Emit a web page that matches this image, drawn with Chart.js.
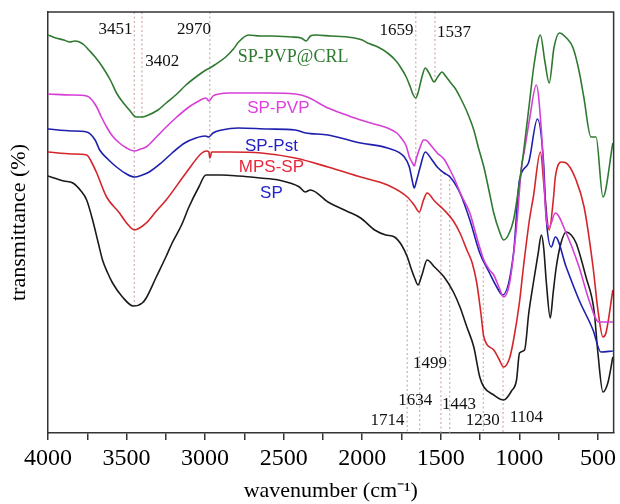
<!DOCTYPE html>
<html>
<head>
<meta charset="utf-8">
<script src="https://cdn.jsdelivr.net/npm/chart.js@4/dist/chart.umd.min.js"></script>
<style>
html,body{margin:0;padding:0;background:#fff;}
#wrap{width:620px;height:504px;}
</style>
</head>
<body>
<div id="wrap"><canvas id="c" width="620" height="504"></canvas></div>
<script>
// x tick positions (wavenumber, cm^-1); labelled every 500
const tickPositions = [4000,3750,3500,3250,3000,2750,2500,2250,2000,1750,1500,1250,1000,750,500];

// spectra: [wavenumber, transmittance (arbitrary units)]
const spPvpCrl = [[4000,398],[3950,395],[3900,393],[3860,391],[3830,392],[3800,391],[3770,388],[3740,383],[3700,376],[3653,366],[3600,352],[3564,340],[3520,330],[3482,323],[3438,316],[3400,316],[3375,317],[3300,323],[3248,330],[3180,339],[3122,348],[3050,357],[2995,363],[2970,365],[2940,368],[2869,376],[2820,384],[2787,391],[2724,398],[2650,397],[2578,397],[2450,396],[2389,395],[2357,392],[2330,397],[2300,398],[2200,397],[2092,396],[2000,393],[1966,390],[1900,386],[1839,380],[1790,373],[1757,366],[1720,356],[1694,346],[1675,338],[1659,335],[1645,340],[1620,356],[1599,365],[1575,360],[1542,351],[1520,356],[1492,361],[1470,357],[1441,351],[1410,345],[1378,336],[1330,320],[1290,303],[1260,285],[1226,266],[1190,240],[1163,220],[1130,203],[1100,193],[1070,198],[1037,213],[1000,250],[974,280],[936,330],[905,370],[866,398],[838,372],[810,350],[780,385],[746,400],[700,395],[658,385],[620,362],[590,336],[544,296],[512,296],[468,236],[405,290]];

const spPvp = [[4000,339],[3850,338],[3754,337],[3720,333],[3690,326],[3660,316],[3627,306],[3590,297],[3545,290],[3500,285],[3450,282],[3410,284],[3375,286],[3310,296],[3248,306],[3180,316],[3103,326],[3040,332],[2995,335],[2975,332],[2950,337],[2913,339],[2850,340],[2787,340],[2600,340],[2427,339],[2350,336],[2218,325],[2100,318],[2010,313],[1900,308],[1839,305],[1780,300],[1757,296],[1720,287],[1700,276],[1680,270],[1669,267],[1655,275],[1631,286],[1610,293],[1599,293],[1560,287],[1523,280],[1480,274],[1441,263],[1416,255],[1370,238],[1315,220],[1270,195],[1226,173],[1190,163],[1163,158],[1130,146],[1100,136],[1062,150],[1018,206],[986,266],[967,283],[936,313],[892,348],[860,303],[828,213],[810,206],[771,220],[702,200],[620,166],[557,133],[494,111],[405,111]];

const spPst = [[4000,304],[3850,302],[3754,301],[3700,293],[3671,283],[3620,274],[3564,266],[3500,259],[3450,256],[3400,258],[3356,261],[3280,270],[3210,280],[3130,290],[3059,295],[3000,297],[2976,296],[2950,300],[2894,303],[2787,305],[2600,304],[2427,303],[2360,300],[2218,298],[2010,290],[1839,285],[1732,276],[1700,266],[1685,255],[1669,245],[1655,252],[1631,266],[1599,281],[1560,274],[1523,266],[1479,260],[1441,256],[1378,240],[1315,213],[1252,180],[1190,160],[1144,146],[1106,138],[1037,180],[999,253],[942,270],[885,314],[847,273],[828,213],[797,186],[771,196],[702,166],[620,133],[531,103],[481,81],[405,82]];

const mpsSp = [[4000,281],[3850,279],[3754,278],[3720,270],[3690,260],[3627,236],[3545,220],[3500,210],[3450,203],[3375,210],[3310,222],[3248,233],[3122,260],[3021,280],[2990,282],[2976,281],[2970,275],[2958,281],[2913,281],[2850,281],[2642,280],[2427,275],[2218,266],[2010,256],[1839,248],[1713,236],[1670,228],[1637,221],[1610,233],[1587,240],[1540,232],[1479,223],[1420,212],[1378,200],[1334,183],[1300,170],[1271,150],[1245,120],[1226,96],[1163,83],[1130,74],[1100,66],[1062,75],[1037,93],[1000,130],[974,166],[936,213],[911,236],[866,281],[841,243],[810,203],[784,233],[771,256],[734,271],[702,270],[639,253],[588,226],[531,166],[500,123],[468,96],[449,100],[405,143]];

const sp = [[4000,257],[3900,252],[3842,250],[3790,242],[3754,233],[3716,213],[3680,190],[3653,173],[3620,160],[3589,150],[3526,136],[3457,127],[3400,130],[3375,135],[3311,156],[3250,176],[3210,190],[3150,208],[3103,226],[3040,246],[2995,258],[2950,258],[2894,258],[2787,257],[2650,255],[2534,253],[2400,246],[2364,241],[2330,243],[2218,231],[2100,222],[2010,215],[1921,203],[1850,198],[1795,196],[1750,188],[1713,176],[1690,165],[1669,156],[1645,148],[1620,158],[1587,173],[1540,166],[1479,156],[1420,141],[1378,126],[1334,106],[1290,86],[1252,56],[1226,46],[1163,38],[1100,33],[1050,42],[1018,53],[999,80],[967,83],[940,120],[911,150],[880,180],[860,198],[845,185],[828,150],[803,115],[785,140],[765,166],[735,190],[702,201],[670,198],[639,190],[576,156],[525,123],[500,80],[468,41],[437,50],[405,76]];

// marker lines: [wavenumber, from, to]
const markerLines = [[3451,421,128],[3402,421,316],[2970,421,270],[1659,421,267],[1537,421,350],[1714,233,0],[1634,221,0],[1499,263,0],[1443,258,0],[1230,166,0],[1104,138,0]];

// peak labels: [text, wavenumber, level]
const peakLabels = [["3451",3570,403],["3402",3273,371],["2970",3071,403],["1659",1782,402],["1537",1416,400],["1714",1839,12],["1634",1662,32],["1499",1568,69],["1443",1384,28],["1230",1233,12],["1104",955,15]];

// series names: [text, wavenumber, level, colour]
const seriesLabels = [["SP-PVP@CRL",2440,376,"#2e7a30","serif"],["SP-PVP",2534,325,"#e03ee0","sans"],["SP-Pst",2578,287,"#2222c0","sans"],["MPS-SP",2578,266,"#e8283c","sans"],["SP",2578,240,"#2222d0","sans"]];

const toPts = arr => arr.map(p => ({x:p[0], y:p[1]}));

const curveDefs = [
  {label:"SP-PVP@CRL", data:spPvpCrl, color:"#2f7a30"},
  {label:"SP-PVP", data:spPvp, color:"#d63fd6"},
  {label:"SP-Pst", data:spPst, color:"#1f1fae"},
  {label:"MPS-SP", data:mpsSp, color:"#d4252b"},
  {label:"SP", data:sp, color:"#1a1a1a"}
];

const datasets = curveDefs.map(c => ({
  label:c.label, data:toPts(c.data), borderColor:c.color, borderWidth:1.6,
  pointRadius:0, fill:false, cubicInterpolationMode:'monotone', tension:0.4
}));
markerLines.forEach(m => datasets.push({
  label:'m'+m[0], data:[{x:m[0],y:m[1]},{x:m[0],y:m[2]}], borderColor:'#c99b9b',
  borderWidth:1, borderDash:[2,2.5], pointRadius:0, fill:false
}));

const textPlugin = {
  id:'texts',
  afterDatasetsDraw(chart){
    const {ctx, scales:{x,y}, chartArea} = chart;
    ctx.save();
    // frame top and right
    ctx.strokeStyle = '#333'; ctx.lineWidth = 1.5;
    ctx.beginPath();
    ctx.moveTo(chartArea.left, chartArea.top);
    ctx.lineTo(chartArea.right, chartArea.top);
    ctx.lineTo(chartArea.right, chartArea.bottom);
    ctx.stroke();
    ctx.textAlign = 'center'; ctx.textBaseline = 'middle';
    ctx.fillStyle = '#111';
    ctx.font = '17px "Liberation Serif"';
    peakLabels.forEach(p => ctx.fillText(p[0], x.getPixelForValue(p[1]), y.getPixelForValue(p[2])));
    seriesLabels.forEach(s => {
      ctx.fillStyle = s[3];
      ctx.font = s[4] === 'serif' ? '18px "Liberation Serif"' : '17px "Liberation Sans"';
      ctx.fillText(s[0], x.getPixelForValue(s[1]), y.getPixelForValue(s[2]));
    });
    ctx.restore();
  }
};

new Chart(document.getElementById('c'), {
  type:'line',
  data:{datasets},
  options:{
    responsive:false, animation:false, devicePixelRatio:1,
    layout:{padding:{left:0,right:3,top:12,bottom:0}},
    plugins:{legend:{display:false}, tooltip:{enabled:false}},
    scales:{
      x:{
        type:'linear', reverse:true, min:400, max:4000, position:'bottom',
        border:{display:true, color:'#333', width:1.5},
        grid:{display:true, drawOnChartArea:false, drawTicks:true, tickLength:7, color:'#333', lineWidth:1.5},
        ticks:{autoSkip:false, maxRotation:0, padding:4, color:'#000',
          font:{family:'"Liberation Serif"', size:24},
          callback:v => (v % 500 === 0 ? String(v) : '')},
        afterBuildTicks:s => { s.ticks = tickPositions.map(v => ({value:v})); },
        afterFit:s => { s.height = 71; },
        title:{display:true, text:'wavenumber (cm⁻¹)', color:'#000',
          font:{family:'"Liberation Serif"', size:22}, padding:{top:0,bottom:0}}
      },
      y:{
        type:'linear', min:0, max:421,
        border:{display:true, color:'#333', width:1.5},
        grid:{display:false},
        ticks:{display:false},
        afterFit:s => { s.width = 48; },
        title:{display:true, text:'transmittance (%)', color:'#000',
          font:{family:'"Liberation Serif"', size:22}, padding:{top:6,bottom:0}}
      }
    }
  },
  plugins:[textPlugin]
});
</script>
</body>
</html>
